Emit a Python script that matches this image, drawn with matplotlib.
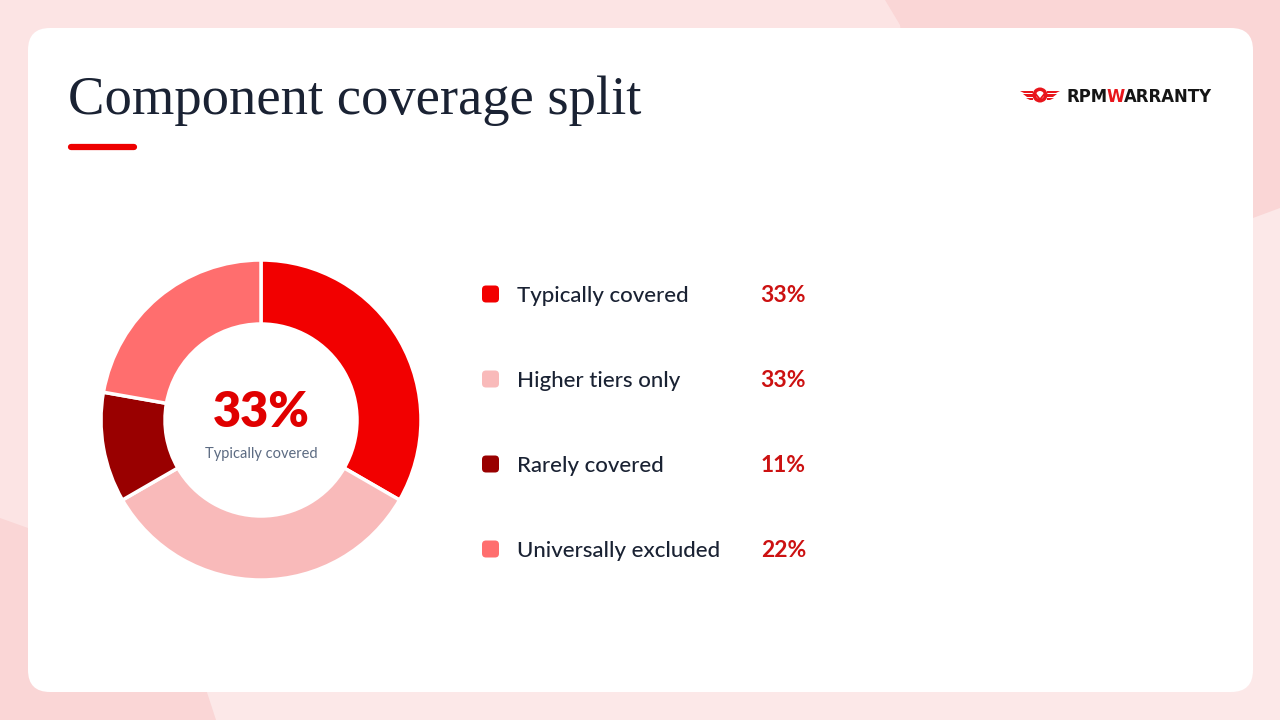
import matplotlib
matplotlib.use("Agg")
import matplotlib.pyplot as plt
from matplotlib.patches import FancyBboxPatch, Polygon, Circle

# ---- data ----
categories = ["Typically covered", "Higher tiers only", "Rarely covered", "Universally excluded"]
values = [33, 33, 11, 22]
value_labels = ["33%", "33%", "11%", "22%"]
colors = ["#F20000", "#F9BABA", "#990000", "#FF6E6E"]
title = "Component coverage split"
center_value = "33%"
center_label = "Typically covered"

W, H = 1280, 720
fig = plt.figure(figsize=(12.8, 7.2), dpi=100)
bg = fig.add_axes([0, 0, 1, 1])
bg.set_xlim(0, W)
bg.set_ylim(H, 0)
bg.axis("off")

# background
bg.add_patch(Polygon([(0, 0), (W, 0), (W, H), (0, H)], closed=True, fc="#FAD6D6", ec="none"))
bg.add_patch(Polygon([(0, 0), (885, 0), (900, 25), (905, 60), (400, 400), (28, 528), (0, 518)],
                     closed=True, fc="#FCE4E4", ec="none"))
bg.add_patch(Polygon([(203, 680), (216, H), (W, H), (W, 208), (1253, 218), (900, 500)],
                     closed=True, fc="#FCE8E8", ec="none"))

# card
bg.add_patch(FancyBboxPatch((28, 28), 1225, 664, boxstyle="round,pad=0,rounding_size=22",
                            fc="white", ec="none"))

# title + underline
bg.text(68, 114, title, fontsize=39.3, family="Liberation Serif", color="#1A2233", va="baseline", ha="left")
bg.plot([71, 134], [147, 147], color="#EE0000", lw=4.5, solid_capstyle="round")

# logo
lx, ly = 1040, 96
red = "#E8151B"
bg.add_patch(Circle((lx, ly - 1), 7.5, fc=red, ec="none"))
bg.add_patch(Circle((lx, ly - 1), 4.0, fc="white", ec="none"))
bg.add_patch(Polygon([(lx - 4, ly - 3), (lx, ly + 2), (lx + 4, ly - 3), (lx + 4, ly), (lx, ly + 5), (lx - 4, ly)],
                     closed=True, fc=red, ec="none"))
for dy, x0 in [(-4, 1020), (-0.5, 1023), (3, 1026)]:
    bg.add_patch(Polygon([(x0, ly + dy - 1.3), (lx - 7, ly + dy - 1.3), (lx - 7, ly + dy + 1.3), (x0 + 4, ly + dy + 1.3)],
                         closed=True, fc=red, ec="none"))
    xr = 2 * lx - x0
    bg.add_patch(Polygon([(xr, ly + dy - 1.3), (lx + 7, ly + dy - 1.3), (lx + 7, ly + dy + 1.3), (xr - 4, ly + dy + 1.3)],
                         closed=True, fc=red, ec="none"))

fig.canvas.draw()
renderer = fig.canvas.get_renderer()
x = 1066
for part, col in [("RPM", "#151515"), ("W", red), ("ARRANTY", "#151515")]:
    t = bg.text(x, 102.5, part, fontsize=11.9, family="DejaVu Sans", weight="bold", color=col,
                va="baseline", ha="left")
    bb = t.get_window_extent(renderer)
    x += bb.width * (W / fig.bbox.width) - 0.5

# legend
row_y = [294, 379, 464, 549]
for yy, lab, val, col in zip(row_y, categories, value_labels, colors):
    bg.add_patch(FancyBboxPatch((482, yy - 8.5), 17, 17, boxstyle="round,pad=0,rounding_size=4",
                                fc=col, ec="none"))
    bg.text(517, yy + 8, lab, fontsize=16, family="Lato", weight="medium", color="#1A2233",
            va="baseline", ha="left")
    bg.text(806, yy + 8, val, fontsize=16.5, family="Lato", weight="bold", color="#CC1111",
            va="baseline", ha="right")

# donut
cx, cy, R = 261, 420, 160
pax = fig.add_axes([(cx - R) / W, (H - cy - R) / H, 2 * R / W, 2 * R / H])
pax.pie(values, colors=colors, startangle=90, counterclock=False, radius=1,
        wedgeprops=dict(width=0.4, edgecolor="white", linewidth=2.5))
pax.set_xlim(-1, 1)
pax.set_ylim(-1, 1)
pax.set_aspect("equal")
pax.axis("off")

bg.text(cx, 427, center_value, fontsize=35, family="Lato", weight="heavy", color="#E00000",
        va="baseline", ha="center")
bg.text(cx, 458, center_label, fontsize=10.5, family="Lato", color="#5C6B82",
        va="baseline", ha="center")

fig.savefig("out.png", dpi=100)
